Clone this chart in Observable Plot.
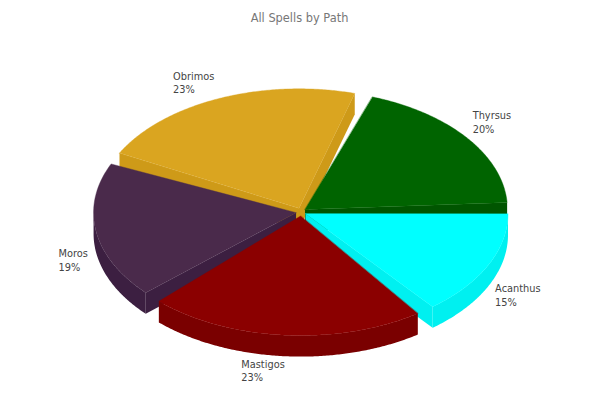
<!DOCTYPE html>
<html>
<head>
<meta charset="utf-8">
<script src="https://cdn.jsdelivr.net/npm/d3@7"></script>
<script src="https://cdn.jsdelivr.net/npm/@observablehq/plot@0.6"></script>
<style>
html,body{margin:0;padding:0;background:#fff}
svg{display:block}
</style>
</head>
<body>
<div id="chart"></div>
<script>
// Data (shares in percent, counter-clockwise from the right)
const paths  = ["Thyrsus", "Obrimos", "Moros", "Mastigos", "Acanthus"];
const shares = [19.6, 22.9, 19.3, 23.3, 14.9];
const chartTitle = "All Spells by Path";

// Styling
const topColors  = ["#006400", "#DAA520", "#4A2A4B", "#8B0000", "#00FFFF"];
const wallColors = ["#005500", "#CE9A18", "#3C1F41", "#7A0000", "#00F0F0"];

// Layout of the tilted pie, in pie units (radius = 1)
const startAngle = 3.4, gapAngle = 3.5;
const depth = 21 / 119, explodeX = 5 / 203, explodeY = 4 / 119;
const labelRadius = 1.2;
const labelNudge = [[-22.5, -4], [-32, 2], [-2.5, 4.4], [-40.5, -6], [-25, -0.6]];

const rad = d => d * Math.PI / 180;
const perPercent = (360 - gapAngle * paths.length) / d3.sum(shares);

let cursor = startAngle;
const slices = paths.map((name, i) => {
  const a0 = cursor, a1 = a0 + shares[i] * perPercent;
  cursor = a1 + gapAngle;
  const mid = (a0 + a1) / 2;
  return {
    name, i, a0, a1, mid,
    cx: explodeX * Math.cos(rad(mid)),
    cy: explodeY * Math.sin(rad(mid)),
    top: topColors[i], wall: wallColors[i]
  };
});

function arc(s, from, to, shift = 0) {
  const pts = [];
  const n = Math.max(2, Math.ceil(Math.abs(to - from) * 2));
  for (let k = 0; k <= n; k++) {
    const a = rad(from + (to - from) * k / n);
    pts.push({x: s.cx + Math.cos(a), y: s.cy + Math.sin(a) - shift});
  }
  return pts;
}
function radialWall(s, a) {
  const e = arc(s, a, a)[0];
  return [
    {x: s.cx, y: s.cy}, e,
    {x: e.x, y: e.y - depth}, {x: s.cx, y: s.cy - depth}
  ];
}
function poly(pts, fill, stroke, strokeWidth) {
  return Plot.line(pts, {x: "x", y: "y", fill, stroke: stroke || "none", strokeWidth: strokeWidth || 0, curve: "linear-closed"});
}

const marks = [];
// back to front
d3.sort(slices, s => -Math.sin(rad(s.mid))).forEach(s => {
  if (Math.cos(rad(s.a0)) > 0) marks.push(poly(radialWall(s, s.a0), s.wall));
  if (Math.cos(rad(s.a1)) < 0) marks.push(poly(radialWall(s, s.a1), s.wall));
  const lo = Math.max(s.a0, 180), hi = Math.min(s.a1, 360);
  if (hi > lo) {
    marks.push(poly([...arc(s, lo, hi), ...arc(s, hi, lo, depth)], s.wall));
  }
  marks.push(poly([{x: s.cx, y: s.cy}, ...arc(s, s.a0, s.a1)], s.top, s.top, 0.4));
});

// labels
slices.forEach(s => {
  const sin = Math.sin(rad(s.mid)), cos = Math.cos(rad(s.mid));
  const [dx, dy] = labelNudge[s.i];
  marks.push(Plot.text([s], {
    x: () => cos * labelRadius,
    y: () => sin * labelRadius - (sin < 0 ? depth : 0),
    text: d => `${d.name}\n${Math.round(shares[d.i])}%`,
    textAnchor: "start", lineAnchor: "middle", lineHeight: 1.4,
    fontSize: 9.8, fill: "#444444", dx, dy
  }));
});

// title
marks.push(Plot.text([chartTitle], {
  frameAnchor: "top", dx: -1, dy: 18, lineAnchor: "middle",
  fontSize: 11.4, fill: "#777777"
}));

const chart = Plot.plot({
  width: 600, height: 400,
  margin: 0,
  style: {fontFamily: "'DejaVu Sans', sans-serif", background: "#fff"},
  x: {domain: [-1, 1], range: [98, 503], axis: null},
  y: {domain: [-1, 1], range: [331, 92], axis: null},
  marks
});
document.getElementById("chart").appendChild(chart);
</script>
</body>
</html>
